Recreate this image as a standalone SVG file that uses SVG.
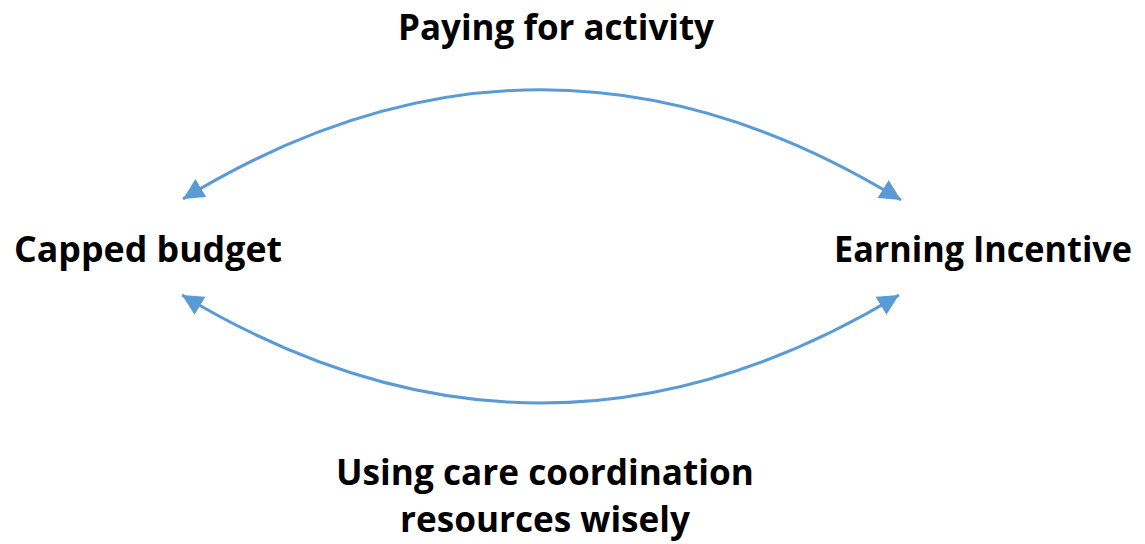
<svg xmlns="http://www.w3.org/2000/svg" width="1145" height="544" viewBox="0 0 1145 544">
<style>
.lbl{font-family:"Open Sans","Liberation Sans",sans-serif;font-weight:bold;font-size:36px;fill:#000;text-anchor:middle}
.arc{fill:none;stroke:#5B9BD5;stroke-width:3}
</style>
<defs>
<marker id="ah" viewBox="0 0 10 10" refX="10" refY="5" markerWidth="7" markerHeight="7" orient="auto-start-reverse" markerUnits="strokeWidth">
<path d="M0,0 L10,5 L0,10 Z" fill="#5B9BD5"/>
</marker>
</defs>
<rect width="1145" height="544" fill="#fff"/>
<g id="connectors">
<path class="arc" d="M183,199 Q542,-20 901,200" marker-start="url(#ah)" marker-end="url(#ah)"/>
<path class="arc" d="M182,295 Q541,511 899,295" marker-start="url(#ah)" marker-end="url(#ah)"/>
</g>
<g id="node-top"><text class="lbl" x="556" y="40" textLength="316" lengthAdjust="spacingAndGlyphs">Paying for activity</text></g>
<g id="node-left"><text class="lbl" x="148" y="262" textLength="268" lengthAdjust="spacingAndGlyphs">Capped budget</text></g>
<g id="node-right"><text class="lbl" x="983" y="262" textLength="298" lengthAdjust="spacingAndGlyphs">Earning Incentive</text></g>
<g id="node-bottom">
<text class="lbl" x="545" y="485" textLength="418" lengthAdjust="spacingAndGlyphs">Using care coordination</text>
<text class="lbl" x="545" y="532" textLength="290" lengthAdjust="spacingAndGlyphs">resources wisely</text>
</g>
</svg>
